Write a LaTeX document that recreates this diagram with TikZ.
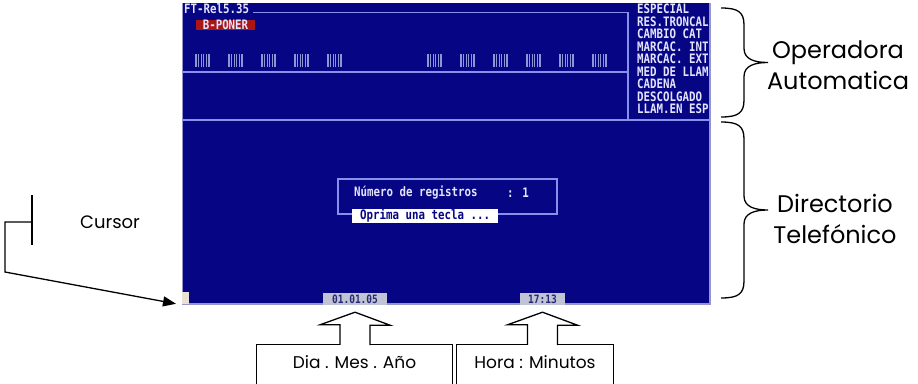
\documentclass[tikz,border=0pt]{standalone}
\usepackage{fontspec}
\newfontfamily\dosfont[FakeStretch=0.83]{DejaVu Sans Mono}
\newfontfamily\gothic{Poppins}
\usepackage{tikz}
\usetikzlibrary{arrows.meta, positioning, calc}

\definecolor{ScreenBlue}{RGB}{6,6,132}
\definecolor{ScreenEdge}{RGB}{150,150,200}
\definecolor{FrameLine}{RGB}{135,145,235}
\definecolor{ScreenText}{RGB}{228,228,255}
\definecolor{AlertRed}{RGB}{170,22,22}
\definecolor{FieldGrey}{RGB}{192,196,212}
\definecolor{FieldText}{RGB}{40,40,120}
\definecolor{CursorGrey}{RGB}{232,226,214}
\definecolor{StripeBlue}{RGB}{140,150,215}

\tikzstyle{arrow} = [line width=1.3pt, -{Triangle[length=13pt,width=10pt]}]
\tikzstyle{blockarrow} = [line width=1.3pt, fill=white, line join=miter]
\tikzstyle{frameline} = [FrameLine, line width=1.2pt]
\tikzset{
  dostext/.style={text=ScreenText, inner sep=0pt,
    font=\dosfont\bfseries\fontsize{13}{12.5}\selectfont},
  field/.style={fill=FieldGrey, text=FieldText, inner sep=0pt, minimum height=12pt,
    font=\dosfont\bfseries\fontsize{11.5}{11}\selectfont},
  labeltext/.style={minimum height=34pt, inner sep=0pt, font=\gothic\fontsize{17}{17}\selectfont},
  sidelabel/.style={align=center, font=\gothic\fontsize{24}{31}\selectfont}
}

% hollow arrow from a label box up to a field
\newcommand{\blockup}[2]{%
  \coordinate (fb) at (#2.north -| #1.south);
  \draw[blockarrow] ([xshift=-15pt]fb) -- ++(0,-20) -- ++(-20,0)
    -- ([yshift=-7pt]#1.south) -- ++(35,13) -- ++(-20,0) -- ++(0,20);}

% curly brace: x, top, bottom
\newcommand{\curlybrace}[3]{%
  \draw[line width=1.3pt] (#1,#2) .. controls (#1+17,#2) and (#1+23,#2+4) .. (#1+23,#2+17)
    -- (#1+23,{(#2+#3)/2-14}) .. controls (#1+23,{(#2+#3)/2-3}) and (#1+34,{(#2+#3)/2}) .. (#1+47,{(#2+#3)/2})
    .. controls (#1+34,{(#2+#3)/2}) and (#1+23,{(#2+#3)/2+3}) .. (#1+23,{(#2+#3)/2+14})
    -- (#1+23,#3-17) .. controls (#1+23,#3-4) and (#1+17,#3) .. (#1,#3);}

\begin{document}
\begin{tikzpicture}[x=1pt, y=-1pt]
\useasboundingbox (0,0) rectangle (918,383);

% screen
\fill[ScreenBlue] (182,3) rectangle (710,304);
\draw[ScreenEdge, line width=1.2pt] (182.6,3) -- (182.6,304) -- (710,304) -- (710,3);
\draw[frameline] (253,12.5) -- (628,12.5) -- (628,120);
\draw[frameline] (182,72) -- (628,72);
\draw[frameline] (182,120) -- (710,120);

\node[dostext, anchor=west] (titulo) at (184,9) {FT-Rel5.35};
\node[dostext, fill=AlertRed, minimum width=59pt, minimum height=10pt] (poner) at (225.5,25) {B-PONER};

\foreach \bx in {196,229,262,295,328,428,461,494,527,560,593}
  \foreach \s in {0,2.6,5.2,7.8,10.4,13}
    \draw[StripeBlue, line width=1.1pt] (\bx+\s,54) -- ++(0,13);

\node[dostext, anchor=north west, align=left] (menu) at (637,4)
  {ESPECIAL\\RES.TRONCAL\\CAMBIO CAT\\MARCAC. INT\\MARCAC. EXT\\MED DE LLAM\\CADENA\\DESCOLGADO\\LLAM.EN ESP};

% dialog
\draw[frameline] (338,179) rectangle (557,214);
\node[dostext, anchor=west] (registros) at (354,193) {Número de registros};
\node[dostext, anchor=west] (cuenta) at (507,193) {: 1};
\node[dostext, fill=white, text=ScreenBlue, anchor=west, inner xsep=8pt, minimum height=12pt] (tecla) at (352,216) {Oprima una tecla ...};

% status line
\node[fill=CursorGrey, minimum width=7pt, minimum height=12pt, inner sep=0pt, anchor=south west] (cursorblk) at (182,304) {};
\node[field, minimum width=64pt] (fecha) at (355,299) {01.01.05};
\node[field, minimum width=45pt] (hora) at (542.5,299) {17:13};

% labels below
\node[labeltext, minimum width=195pt] (diames) at (354.5,362) {Dia . Mes . Año};
\node[labeltext, minimum width=156pt] (horamin) at (535,362) {Hora : Minutos};
\draw[line width=1.3pt] ([yshift=-10pt]diames.south west) |- (diames.north east) -- ([yshift=-10pt]diames.south east);
\draw[line width=1.3pt] ([yshift=-10pt]horamin.south west) |- (horamin.north east) -- ([yshift=-10pt]horamin.south east);
\blockup{fecha}{diames}
\blockup{hora}{horamin}

% braces on the right
\curlybrace{721}{8}{117}
\curlybrace{721}{122}{298}
\node[sidelabel] (operadora) at (838,65) {Operadora\\Automatica};
\node[sidelabel] (directorio) at (835,219) {Directorio\\Telefónico};

% cursor callout
\node[font=\gothic\fontsize{18}{18}\selectfont] (cursor) at (110,222) {Cursor};
\coordinate (callout) at (32,222);
\draw[line width=1.3pt] (32,195) -- (32,245);
\draw[arrow] (callout) -- (5,222) -- (5,272) -- ([xshift=-6pt,yshift=-6pt]cursorblk.west);
\end{tikzpicture}
\end{document}
